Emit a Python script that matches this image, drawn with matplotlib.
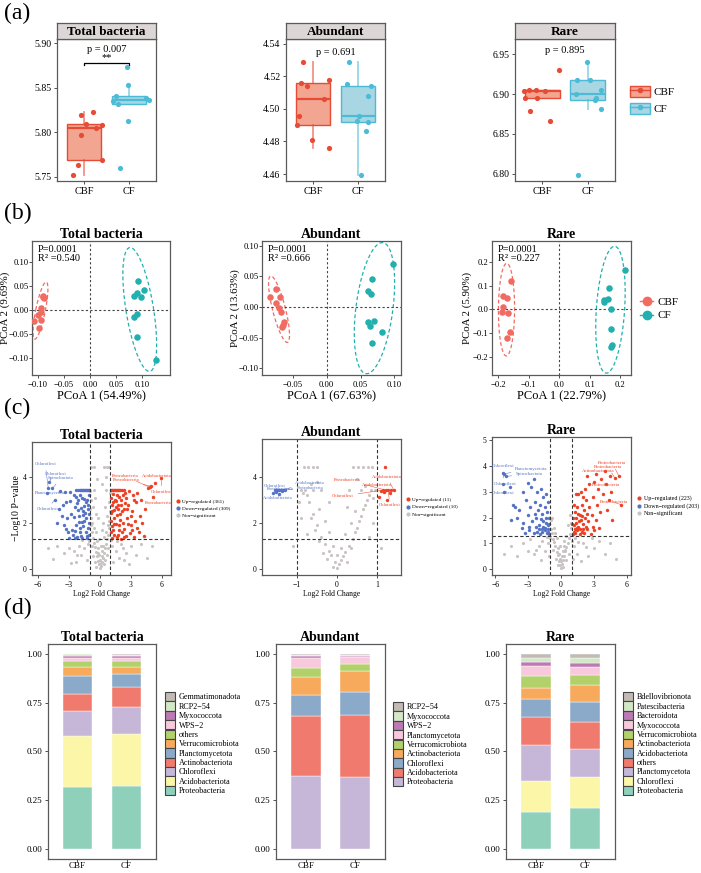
import numpy as np
import matplotlib
matplotlib.use("Agg")
import matplotlib.pyplot as plt
from matplotlib.patches import Patch
from matplotlib.lines import Line2D

plt.rcParams['font.family'] = ['Liberation Serif', 'DejaVu Serif']

W, H = 701, 873

# ---------------- (a) alpha diversity ----------------
groups = ["CBF", "CF"]
tot_cbf_dx = [-0.237, -0.141, -0.074, -0.059, 0.037, 0.193, 0.267, 0.393, 0.393]
tot_cbf_y = [5.752, 5.7635, 5.819, 5.7965, 5.8096, 5.8228, 5.8044, 5.8085, 5.7688]
tot_cf_dx = [-0.037, -0.015, -0.289, -0.348, -0.244, 0.37, 0.437, -0.015, -0.193]
tot_cf_y = [5.8726, 5.8535, 5.8404, 5.8351, 5.8314, 5.8389, 5.8366, 5.813, 5.7601]
abu_cbf_dx = [-0.215, -0.259, -0.141, 0.348, 0.244, -0.319, -0.356, -0.015, 0.348]
abu_cbf_y = [4.5289, 4.5157, 4.5143, 4.518, 4.5063, 4.4954, 4.4904, 4.4808, 4.4762]
abu_cf_dx = [-0.207, -0.244, 0.281, 0.215, 0.015, -0.03, 0.222, 0.185, 0.059]
abu_cf_y = [4.5291, 4.5151, 4.5139, 4.5077, 4.4956, 4.4923, 4.4921, 4.4865, 4.4596]
rar_cbf_dx = [-0.393, -0.296, -0.148, 0.059, 0.363, -0.378, -0.119, -0.267, 0.17]
rar_cbf_y = [6.9042, 6.905, 6.9054, 6.9042, 6.9304, 6.8946, 6.895, 6.8783, 6.8658]
rar_cf_dx = [-0.015, -0.23, 0.052, -0.252, 0.296, 0.185, 0.156, 0.281, -0.207]
rar_cf_y = [6.94, 6.9175, 6.9179, 6.9004, 6.9046, 6.8946, 6.8929, 6.8808, 6.7983]
p_values = ["p = 0.007", "p = 0.691", "p = 0.895"]

# ---------------- (b) PCoA ----------------
pc_tot_cbf = [(-0.0897, 0.0299), (-0.0885, 0.025), (-0.0942, 0.0042), (-0.0949, -0.0028),
              (-0.1006, -0.0104), (-0.0942, -0.0201), (-0.1071, -0.0236), (-0.0974, -0.0375),
              (-0.0905, 0.027)]
pc_tot_cf = [(0.093, 0.0611), (0.1032, 0.0417), (0.0897, 0.0347), (0.0846, 0.0292),
             (0.0981, 0.0264), (0.0897, -0.0083), (0.0853, -0.0139), (0.091, -0.0549),
             (0.1276, -0.1035)]
pc_abu_cbf = [(-0.0753, 0.0288), (-0.0831, 0.0157), (-0.0684, 0.0157), (-0.0743, 0.0059),
              (-0.0703, -0.0023), (-0.0679, -0.0088), (-0.0635, -0.0252), (-0.0644, -0.0295),
              (-0.0654, -0.0333)]
pc_abu_cf = [(0.0984, 0.0696), (0.0669, 0.0456), (0.0605, 0.0254), (0.0654, 0.0211),
             (0.0698, -0.0225), (0.0605, -0.0246), (0.0644, -0.0312), (0.0812, -0.041),
             (0.0669, -0.0595)]
pc_rar_cbf = [(-0.1563, 0.1189), (-0.1825, 0.0559), (-0.1716, 0.049), (-0.1825, 0.0084),
              (-0.1858, -0.0126), (-0.1661, -0.014), (-0.1607, -0.0965), (-0.1716, -0.1217)]
pc_rar_cf = [(0.2153, 0.1664), (0.1639, 0.0909), (0.1617, 0.0448), (0.1475, 0.0406),
             (0.1486, 0.0322), (0.1694, 0.0), (0.1694, -0.0825), (0.1727, -0.1497),
             (0.1694, -0.158)]
pc_stats = [("P=0.0001", "R² =0.540"), ("P=0.0001", "R² =0.666"), ("P=0.0001", "R² =0.227")]
pc_axis1 = ["PCoA 1 (54.49%)", "PCoA 1 (67.63%)", "PCoA 1 (22.79%)"]
pc_axis2 = ["PCoA 2 (9.69%)", "PCoA 2 (13.63%)", "PCoA 2 (5.90%)"]

# ---------------- (c) volcano ----------------
vt_up = [(1.05, 3.43), (1.15, 3.43), (1.25, 3.43), (1.35, 3.43), (1.45, 3.43), (1.55, 3.43),
         (1.65, 3.43), (1.75, 3.43), (1.85, 3.43), (1.95, 3.43), (2.1, 3.43), (2.3, 3.43),
         (1.1, 3.1), (1.3, 2.9), (1.6, 3.2), (2.0, 3.0), (2.4, 3.3), (2.8, 3.4), (3.2, 3.2),
         (3.6, 3.3), (1.2, 2.5), (1.5, 2.7), (1.9, 2.4), (2.3, 2.6), (2.7, 2.8), (3.1, 2.5),
         (3.5, 2.9), (4.0, 3.0), (4.4, 2.6), (1.1, 2.1), (1.4, 2.2), (1.8, 1.9), (2.2, 2.0),
         (2.6, 2.2), (3.0, 1.9), (3.4, 2.1), (3.9, 2.3), (1.05, 1.6), (1.3, 1.7), (1.7, 1.5),
         (2.1, 1.6), (2.5, 1.45), (2.9, 1.55), (3.3, 1.4), (3.8, 1.6), (4.3, 1.45), (1.2, 1.35),
         (1.6, 1.38), (2.0, 1.32), (1.15, 2.8), (1.45, 3.0), (1.75, 2.6), (2.05, 2.8),
         (1.35, 1.95), (1.65, 2.35), (4.6, 3.5), (4.9, 3.6), (5.3, 3.75), (5.9, 3.95),
         (5.1, 3.15), (4.8, 3.55), (3.3, 3.0), (2.5, 3.1), (4.1, 2.0), (3.6, 1.8),
         (1.25, 3.25), (1.55, 2.95), (1.85, 3.15), (2.25, 3.2), (1.1, 2.45), (1.4, 2.55),
         (1.7, 2.8), (2.1, 2.5), (2.45, 2.85), (1.2, 1.85), (1.5, 1.95), (1.9, 2.15),
         (2.35, 1.75), (2.75, 1.95), (1.35, 1.5), (1.8, 1.7), (2.3, 1.38), (3.1, 1.7),
         (2.6, 2.6), (3.0, 2.3)]
vt_down = [(-1.05, 3.43), (-1.15, 3.43), (-1.25, 3.43), (-1.35, 3.43), (-1.45, 3.43),
           (-1.55, 3.43), (-1.65, 3.43), (-1.75, 3.43), (-1.85, 3.43), (-1.95, 3.43),
           (-2.1, 3.43), (-2.3, 3.43), (-1.1, 3.2), (-1.4, 2.9), (-1.7, 3.1), (-2.1, 3.0),
           (-2.5, 3.2), (-2.9, 3.35), (-3.3, 2.9), (-1.2, 2.6), (-1.6, 2.5), (-2.0, 2.3),
           (-2.4, 2.7), (-2.8, 2.4), (-3.2, 2.2), (-3.6, 2.8), (-4.0, 2.6), (-1.1, 2.0),
           (-1.5, 2.1), (-1.9, 1.8), (-2.3, 1.9), (-2.7, 1.7), (-3.1, 1.6), (-3.5, 1.9),
           (-1.05, 1.5), (-1.4, 1.6), (-1.8, 1.45), (-2.2, 1.4), (-2.6, 1.5), (-3.0, 1.35),
           (-1.3, 1.33), (-1.7, 1.36), (-1.15, 2.8), (-1.5, 3.05), (-1.85, 2.65), (-2.2, 2.85),
           (-1.35, 2.2), (-1.65, 2.35), (-4.6, 3.5), (-5.0, 3.5), (-4.9, 3.8), (-5.1, 3.3),
           (-4.4, 3.0), (-3.9, 3.4), (-3.7, 2.3), (-4.2, 2.0), (-2.9, 2.95), (-3.4, 3.35),
           (-1.25, 3.0), (-1.55, 2.75), (-1.9, 3.2), (-2.3, 3.15), (-1.1, 2.4), (-1.45, 2.45),
           (-1.75, 2.05), (-2.1, 2.55), (-2.5, 2.25), (-1.2, 1.8), (-1.6, 1.85), (-2.0, 2.05),
           (-2.45, 1.65), (-1.3, 1.45), (-1.9, 1.6), (-2.4, 1.35), (-3.3, 1.75)]
vt_ns = [(0, 0.05), (0.1, 0.15), (-0.1, 0.2), (0.2, 0.3), (-0.2, 0.35), (0.3, 0.5), (-0.3, 0.55),
         (0.4, 0.7), (-0.4, 0.75), (0.5, 0.9), (-0.5, 0.95), (0.6, 1.1), (-0.6, 1.15), (0.0, 0.4),
         (0.05, 0.25), (-0.05, 0.6), (0.15, 0.8), (-0.15, 0.9), (0.25, 1.0), (-0.25, 1.2),
         (0.7, 1.3), (-0.7, 1.35), (0.8, 1.5), (-0.8, 1.6), (0.9, 1.8), (-0.9, 1.9), (0.85, 2.1),
         (-0.85, 2.2), (0.95, 2.5), (-0.95, 2.6), (0.9, 2.9), (-0.9, 3.0), (0.95, 3.3),
         (-0.95, 3.4), (0.6, 3.43), (-0.6, 3.43), (0.3, 2.0), (-0.4, 2.4), (0.5, 2.7),
         (-0.5, 3.1), (0.7, 2.3), (-0.7, 2.7), (1.2, 1.0), (-1.2, 1.1), (1.5, 0.8), (-1.5, 0.9),
         (2.0, 1.1), (-2.0, 1.0), (2.5, 0.7), (-2.5, 0.8), (3.0, 1.0), (-3.0, 0.9), (1.8, 0.5),
         (-1.8, 0.6), (3.5, 0.6), (-3.5, 0.7), (4.0, 1.1), (-4.2, 1.0), (1.3, 0.3), (-1.3, 0.4),
         (2.3, 0.4), (-2.3, 0.3), (-0.6, 4.43), (0.4, 4.43), (0.7, 4.43), (-0.9, 4.43),
         (0.9, 4.43), (0.2, 3.7), (-0.3, 3.9), (0.55, 4.0), (1.1, 1.25), (-1.1, 1.2), (0.35, 1.4),
         (-0.35, 1.6), (0.75, 1.9), (-0.75, 2.0), (5.0, 1.0), (-5.0, 0.9), (2.8, 0.2),
         (-2.8, 0.25), (4.5, 0.5), (-4.5, 0.45), (0.1, 1.0), (-0.1, 1.3), (0.2, 0.55),
         (-0.2, 0.7), (0.45, 0.4), (-0.45, 0.3), (0.65, 0.6), (-0.65, 0.55), (0.35, 0.2),
         (-0.35, 0.1), (0.8, 0.9), (-0.8, 1.0), (1.6, 1.2), (-1.7, 1.25), (2.2, 0.9),
         (-2.2, 0.6), (0.55, 1.6), (-0.55, 1.8), (0.15, 1.7), (-0.2, 2.2)]
va_up = [(1.2, 4.43), (1.15, 3.43), (1.22, 3.43), (1.28, 3.43), (1.35, 3.43), (1.42, 3.43),
         (1.1, 3.4), (1.32, 3.3), (1.05, 3.15), (1.25, 3.0), (1.18, 3.36)]
va_down = [(-1.55, 3.43), (-1.5, 3.43), (-1.45, 3.43), (-1.4, 3.43), (-1.35, 3.43), (-1.3, 3.43),
           (-1.6, 3.3), (-1.45, 3.25), (-1.38, 3.38), (-1.52, 3.35)]
va_ns = [(0, 0.05), (0.05, 0.2), (-0.05, 0.3), (0.1, 0.4), (-0.1, 0.1), (0.15, 0.55),
         (-0.15, 0.6), (0.2, 0.75), (-0.2, 0.8), (0.25, 0.3), (-0.25, 0.45), (0.3, 1.0),
         (-0.3, 1.1), (0.35, 0.9), (-0.35, 0.7), (0.4, 1.3), (-0.4, 1.4), (0.45, 1.6),
         (-0.45, 1.2), (0.5, 1.8), (-0.5, 1.9), (0.55, 2.1), (-0.55, 1.7), (0.6, 2.3),
         (-0.6, 2.4), (0.65, 2.6), (-0.65, 2.2), (0.7, 2.8), (-0.7, 2.9), (0.75, 3.0),
         (-0.75, 3.2), (0.8, 3.2), (-0.8, 3.43), (0.85, 3.43), (-0.85, 3.3), (0.9, 3.1),
         (-0.9, 3.43), (0.95, 3.43), (-0.95, 2.9), (0.6, 3.43), (-0.6, 3.43), (0.3, 3.43),
         (-0.4, 3.43), (0.7, 3.6), (-0.65, 3.7), (0.0, 0.6), (0.1, 0.9), (-0.1, 1.0),
         (0.2, 1.5), (-0.2, 1.6), (0.35, 2.0), (-0.3, 2.1), (0.45, 2.5), (-0.45, 2.6),
         (-0.2, 2.9), (0.25, 2.7), (-0.83, 4.43), (-0.73, 4.43), (-0.6, 4.43), (-0.5, 4.43),
         (0.4, 4.43), (0.53, 4.43), (0.65, 4.43), (0.78, 4.43), (0.88, 4.43), (0.5, 3.9),
         (-0.5, 3.8), (0.9, 2.0), (-0.9, 2.2), (0.8, 1.4), (-0.75, 1.5), (-1.1, 1.0), (1.1, 0.9)]
vr_up = [(1.1, 1.35), (1.3, 1.4), (1.5, 1.5), (1.7, 1.38), (1.9, 1.45), (2.1, 1.4), (2.4, 1.55),
         (2.7, 1.38), (3.0, 1.5), (1.2, 1.7), (1.4, 1.8), (1.6, 1.65), (1.8, 1.9), (2.0, 1.75),
         (2.2, 2.0), (2.5, 1.85), (2.8, 2.1), (3.2, 1.9), (1.1, 2.0), (1.3, 2.2), (1.5, 2.4),
         (1.7, 2.1), (1.9, 2.5), (2.1, 2.3), (2.3, 2.7), (2.6, 2.4), (2.9, 2.8), (3.3, 2.5),
         (3.6, 2.2), (1.4, 2.9), (1.8, 3.0), (2.2, 3.1), (2.6, 3.3), (3.0, 3.4), (3.4, 3.1),
         (3.8, 2.9), (4.1, 3.3), (4.4, 2.7), (4.0, 3.8), (4.5, 3.6), (4.9, 3.55), (5.3, 3.6),
         (5.5, 2.5), (4.6, 3.0), (3.7, 3.5), (3.2, 3.7), (2.4, 3.6), (4.2, 2.3), (1.25, 1.55),
         (2.05, 1.55), (1.6, 2.9), (2.9, 1.65), (3.5, 1.6), (4.7, 1.9), (2.0, 2.8), (1.15, 2.5),
         (1.2, 1.45), (1.45, 1.6), (1.75, 1.55), (2.25, 1.65), (1.35, 2.0), (1.65, 1.85),
         (2.4, 2.15), (1.05, 1.75), (1.55, 2.15), (1.95, 2.05)]
vr_down = [(-1.1, 1.35), (-1.3, 1.4), (-1.5, 1.5), (-1.7, 1.45), (-1.9, 1.38), (-2.2, 1.45),
           (-2.5, 1.4), (-2.9, 1.5), (-3.3, 1.4), (-1.2, 1.7), (-1.4, 1.8), (-1.6, 1.65),
           (-1.8, 1.95), (-2.0, 1.7), (-2.3, 2.0), (-2.6, 1.85), (-3.0, 2.1), (-3.5, 1.8),
           (-1.1, 2.0), (-1.3, 2.2), (-1.5, 2.4), (-1.7, 2.15), (-1.9, 2.5), (-2.1, 2.3),
           (-2.4, 2.6), (-2.8, 2.4), (-3.2, 2.7), (-3.8, 2.3), (-4.2, 2.4), (-1.4, 2.9),
           (-1.8, 3.1), (-2.2, 3.0), (-2.7, 3.2), (-3.0, 3.35), (-3.5, 3.0), (-4.4, 2.5),
           (-5.2, 3.0), (-5.3, 3.3), (-5.0, 3.6), (-5.2, 3.7), (-5.3, 3.75), (-4.7, 3.2),
           (-2.5, 3.5), (-1.2, 1.55), (-2.05, 1.55), (-1.6, 2.8), (-2.9, 1.65), (-3.6, 1.6),
           (-4.6, 1.9), (-4.0, 2.0), (-1.15, 2.6), (-1.2, 1.45), (-1.45, 1.6), (-1.75, 1.55),
           (-2.25, 1.65), (-1.35, 2.0), (-1.65, 1.85), (-2.4, 2.15), (-1.05, 1.75)]
vr_ns = [(0, 0.05), (0.1, 0.2), (-0.1, 0.15), (0.2, 0.35), (-0.2, 0.3), (0.3, 0.5), (-0.3, 0.55),
         (0.4, 0.7), (-0.4, 0.65), (0.5, 0.85), (-0.5, 0.9), (0.6, 1.0), (-0.6, 1.05), (0.7, 1.2),
         (-0.7, 1.15), (0.8, 1.35), (-0.8, 1.4), (0.9, 1.6), (-0.9, 1.55), (0.95, 1.8),
         (-0.95, 1.9), (0.85, 2.1), (-0.85, 2.0), (0.0, 0.3), (0.05, 0.5), (-0.05, 0.4),
         (0.15, 0.7), (-0.15, 0.6), (0.25, 0.9), (-0.25, 0.8), (1.2, 0.9), (-1.2, 1.0),
         (1.5, 0.6), (-1.5, 0.7), (2.0, 1.0), (-2.0, 0.9), (2.5, 0.5), (-2.5, 0.6), (3.0, 0.8),
         (-3.0, 0.7), (3.5, 1.1), (-3.5, 1.0), (4.0, 0.6), (-4.0, 0.5), (1.3, 1.2), (-1.3, 1.25),
         (1.8, 0.3), (-1.8, 0.35), (2.8, 1.2), (-2.8, 1.15), (4.5, 1.0), (-4.6, 0.9), (0.5, 1.3),
         (-0.5, 1.4), (0.3, 1.1), (-0.35, 1.2), (0.65, 1.7), (-0.65, 1.6), (1.1, 0.4),
         (-1.1, 0.5), (5.0, 0.4), (-5.2, 0.6), (0.2, 0.1), (-0.25, 0.15), (0.45, 0.35),
         (-0.45, 0.4), (0.7, 0.6), (-0.7, 0.75), (1.0, 1.1), (-1.0, 1.2), (1.6, 1.05),
         (-1.7, 1.1), (2.3, 0.85), (-2.3, 0.75), (0.35, 0.75), (-0.1, 0.9)]
volc_counts = [(361, 309), (11, 10), (223, 203)]

# labels: text, text x, text y, point x, point y, side
vt_labels = [("Chloroflexi", -5.3, 4.55, -5.0, 3.5, 0), ("Chloroflexi", -4.3, 4.15, -4.9, 3.8, 0),
             ("Spirochaetota", -3.8, 3.95, -4.6, 3.5, 0), ("Planctomycetota", -4.8, 3.3, -5.1, 3.3, 0),
             ("Chloroflexi", -5.1, 2.6, -4.4, 3.0, 0), ("Proteobacteria", 2.4, 4.05, 4.8, 3.55, 1),
             ("Acidobacteriota", 5.5, 4.05, 5.3, 3.75, 1), ("Proteobacteria", 2.5, 3.85, 4.9, 3.6, 1),
             ("Chloroflexi", 6.0, 3.35, 5.9, 3.95, 1), ("Proteobacteria", 5.6, 2.85, 5.1, 3.15, 1)]
va_labels = [("Chloroflexi", -1.55, 3.6, -1.5, 3.43, 0), ("Proteobacteria", -1.42, 3.48, -1.45, 3.43, 0),
             ("Acidobacteriota", -0.67, 3.74, -1.4, 3.43, 0), ("Proteobacteria", -0.67, 3.52, -1.35, 3.43, 0),
             ("Acidobacteriota", -1.47, 3.09, -1.45, 3.25, 0), ("Acidobacteriota", 1.25, 4.0, 1.42, 3.43, 1),
             ("Proteobacteria", 0.25, 3.87, 1.22, 3.43, 1), ("Acidobacteriota", 1.0, 3.65, 1.35, 3.43, 1),
             ("Chloroflexi", 0.15, 3.17, 1.15, 3.43, 1), ("Chloroflexi", 1.32, 2.78, 1.28, 3.43, 1)]
vr_labels = [("Chloroflexi", -5.26, 4.0, -5.3, 3.75, 0), ("Planctomycetota", -2.7, 3.9, -5.2, 3.7, 0),
             ("Spirochaetota", -2.9, 3.7, -5.0, 3.6, 0), ("Chloroflexi", -5.1, 3.3, -5.3, 3.7, 0),
             ("Chloroflexi", -5.26, 2.95, -5.2, 3.0, 0), ("Proteobacteria", 4.7, 4.12, 5.3, 3.6, 1),
             ("Proteobacteria", 4.3, 3.97, 4.9, 3.55, 1), ("Actinobacteriota", 3.4, 3.8, 4.5, 3.6, 1),
             ("Proteobacteria", 4.1, 3.27, 4.6, 3.0, 1), ("Proteobacteria", 4.8, 2.6, 5.5, 2.5, 1)]

# ---------------- (d) composition (bottom -> top) ----------------
tot_taxa = ["Proteobacteria", "Acidobacteriota", "Chloroflexi", "Actinobacteriota", "Planctomycetota",
            "Verrucomicrobiota", "others", "WPS−2", "Myxococcota", "RCP2−54", "Gemmatimonadota"]
tot_cbf = [0.320, 0.261, 0.124, 0.089, 0.092, 0.047, 0.028, 0.016, 0.013, 0.007, 0.003]
tot_cf = [0.326, 0.266, 0.135, 0.105, 0.067, 0.034, 0.028, 0.016, 0.011, 0.007, 0.005]
abu_taxa = ["Proteobacteria", "Acidobacteriota", "Chloroflexi", "Actinobacteriota", "Verrucomicrobiota",
            "Planctomycetota", "WPS−2", "Myxococcota", "RCP2−54"]
abu_cbf = [0.374, 0.306, 0.109, 0.093, 0.047, 0.049, 0.010, 0.007, 0.005]
abu_cf = [0.371, 0.314, 0.121, 0.106, 0.036, 0.035, 0.007, 0.005, 0.005]
rar_taxa = ["Proteobacteria", "Chloroflexi", "Planctomycetota", "others", "Acidobacteriota",
            "Actinobacteriota", "Verrucomicrobiota", "Myxococcota", "Bacteroidota", "Patescibacteria",
            "Bdellovibrionota"]
rar_cbf = [0.190, 0.159, 0.185, 0.140, 0.093, 0.060, 0.061, 0.047, 0.023, 0.020, 0.022]
rar_cf = [0.210, 0.161, 0.142, 0.138, 0.102, 0.089, 0.049, 0.040, 0.024, 0.025, 0.020]
palette = ["#8FD0BB", "#FBF6A8", "#C6B7D8", "#EF7A6D", "#8BA9C9", "#F7AA5C", "#B2D16A",
           "#F8C8DD", "#BB7AB4", "#D2E8C6", "#C2BAB5"]

RED, BLUE = "#E64B35", "#4DBBD5"
RED_FILL, BLUE_FILL = "#F2A590", "#A9D6E3"
P_RED, P_TEAL = "#F26B63", "#22B0AE"
V_UP, V_DOWN, V_NS = "#EE4025", "#5573C6", "#C9C3C3"
SPINE = "#5A5A5A"

fig = plt.figure(figsize=(W / 100, H / 100), dpi=100)


def px_axes(l, t, r, b):
    return fig.add_axes([l / W, 1 - b / H, (r - l) / W, (b - t) / H])


def style(ax, size):
    for s in ax.spines.values():
        s.set_color(SPINE)
        s.set_linewidth(0.9)
    ax.tick_params(length=2.5, width=0.6, color="#333333", labelsize=size, pad=1.5)


#####  (a) boxplots
def box_panel(l, r, title, cbf_dx, cbf_y, cf_dx, cf_y, ylim, yticks, ptxt, py):
    ax = px_axes(l, 39, r, 181)
    bp = ax.boxplot([cbf_y, cf_y], positions=[1, 2], widths=0.77, patch_artist=True,
                    showfliers=False, showcaps=False)
    for i, (c, fc) in enumerate([(RED, RED_FILL), (BLUE, BLUE_FILL)]):
        bp["boxes"][i].set(facecolor=fc, edgecolor=c, linewidth=1.0)
        bp["medians"][i].set(color=c, linewidth=1.6)
        for w in bp["whiskers"][2 * i:2 * i + 2]:
            w.set(color=c, alpha=0.6, linewidth=1.3)
    ax.scatter(1 + np.array(cbf_dx), cbf_y, s=14, color=RED, zorder=3, linewidths=0)
    ax.scatter(2 + np.array(cf_dx), cf_y, s=14, color=BLUE, zorder=3, linewidths=0)
    ax.set_xlim(0.4, 2.6)
    ax.set_ylim(*ylim)
    ax.set_yticks(yticks)
    ax.set_yticklabels([f"{v:.2f}" for v in yticks])
    ax.set_xticks([1, 2])
    ax.set_xticklabels(groups)
    style(ax, 7)
    ax.tick_params(axis="x", labelsize=7.5)
    ax.text(1.5, py, ptxt, ha="center", va="bottom", fontsize=7.5)
    sax = px_axes(l, 23, r, 39)
    sax.set_facecolor("#DCD6D6")
    sax.set_xticks([])
    sax.set_yticks([])
    for s in sax.spines.values():
        s.set_color(SPINE)
        s.set_linewidth(0.9)
    sax.text(0.5, 0.45, title, ha="center", va="center", fontsize=9.5, fontweight="bold")
    return ax


ax = box_panel(57, 156, "Total bacteria", tot_cbf_dx, tot_cbf_y, tot_cf_dx, tot_cf_y,
               (5.7455, 5.9045), [5.75, 5.80, 5.85, 5.90], p_values[0], 5.8875)
ax.plot([1, 1, 2, 2], [5.8755, 5.878, 5.878, 5.8755], color="black", lw=0.9)
ax.text(1.5, 5.8785, "**", ha="center", va="bottom", fontsize=7.5)
box_panel(286, 385, "Abundant", abu_cbf_dx, abu_cbf_y, abu_cf_dx, abu_cf_y,
          (4.4557, 4.543), [4.46, 4.48, 4.50, 4.52, 4.54], p_values[1], 4.532)
box_panel(515, 615, "Rare", rar_cbf_dx, rar_cbf_y, rar_cf_dx, rar_cf_y,
          (6.791, 6.969), [6.80, 6.85, 6.90, 6.95], p_values[2], 6.949)

hand_a = [(Patch(facecolor=RED_FILL, edgecolor=RED), Line2D([], [], color=RED, marker="o", ms=3, lw=1)),
          (Patch(facecolor=BLUE_FILL, edgecolor=BLUE), Line2D([], [], color=BLUE, marker="o", ms=3, lw=1))]
fig.legend(hand_a, groups, loc="center left", bbox_to_anchor=(620 / W, 1 - 100 / H), frameon=False,
           fontsize=8, handlelength=1.8, handleheight=1.2, labelspacing=0.5, handletextpad=0.3)


#####  (b) PCoA
def ellipse(pts):
    pts = np.array(pts)
    cov = np.cov(pts[:, 0], pts[:, 1])
    vals, vecs = np.linalg.eigh(cov)
    t = np.linspace(0, 2 * np.pi, 200)
    circ = np.stack([np.cos(t), np.sin(t)]) * np.sqrt(vals)[:, None] * np.sqrt(5.991)
    e = vecs @ circ
    return pts[:, 0].mean() + e[0], pts[:, 1].mean() + e[1]


def pcoa_panel(l, r, title, cbf, cf, xlim, ylim, xticks, yticks, fmt, stats, xl, yl, ylab_x):
    ax = px_axes(l, 241, r, 375)
    for pts, c in [(cbf, P_RED), (cf, P_TEAL)]:
        a = np.array(pts)
        ax.scatter(a[:, 0], a[:, 1], s=22, color=c, linewidths=0, zorder=3)
        ex, ey = ellipse(pts)
        ax.plot(ex, ey, color=c, lw=0.9, ls=(0, (3, 2)))
    ax.axhline(0, color="#444444", lw=0.8, ls=(0, (2, 2)))
    ax.axvline(0, color="#444444", lw=0.8, ls=(0, (2, 2)))
    ax.set_xlim(*xlim)
    ax.set_ylim(*ylim)
    ax.set_xticks(xticks)
    ax.set_xticklabels([fmt.format(v).replace("-", "−") for v in xticks])
    ax.set_yticks(yticks)
    ax.set_yticklabels([fmt.format(v).replace("-", "−") for v in yticks])
    style(ax, 6.2)
    ax.tick_params(axis="y", pad=0.6, length=2)
    ax.set_title(title, fontsize=10, fontweight="bold", pad=2)
    ax.text(0.04, 0.97, stats[0] + "\n" + stats[1], transform=ax.transAxes, ha="left", va="top",
            fontsize=7.5, linespacing=1.05)
    ax.set_xlabel(xl, fontsize=9, labelpad=1)
    ax.set_ylabel(yl, fontsize=7.8)
    ax.yaxis.set_label_coords((ylab_x - l) / (r - l), 0.5)
    return ax


pcoa_panel(32, 170, "Total bacteria", pc_tot_cbf, pc_tot_cf, (-0.1115, 0.154), (-0.135, 0.144),
           [-0.10, -0.05, 0, 0.05, 0.10], [-0.10, -0.05, 0, 0.05, 0.10], "{:.2f}",
           pc_stats[0], pc_axis1[0], pc_axis2[0], 10.5)
pcoa_panel(262, 401, "Abundant", pc_abu_cbf, pc_abu_cf, (-0.0954, 0.1096), (-0.111, 0.1077),
           [-0.05, 0, 0.05, 0.10], [-0.10, -0.05, 0, 0.05, 0.10], "{:.2f}",
           pc_stats[1], pc_axis1[1], pc_axis2[1], 240)
pcoa_panel(492, 631, "Rare", pc_rar_cbf, pc_rar_cf, (-0.2197, 0.236), (-0.276, 0.287),
           [-0.2, -0.1, 0, 0.1, 0.2], [-0.2, -0.1, 0, 0.1, 0.2], "{:.1f}",
           pc_stats[2], pc_axis1[2], pc_axis2[2], 472)
hand_b = [Line2D([], [], color=P_RED, marker="o", ms=6, lw=1),
          Line2D([], [], color=P_TEAL, marker="o", ms=6, lw=1)]
fig.legend(hand_b, groups, loc="center left", bbox_to_anchor=(630 / W, 1 - 309 / H), frameon=False,
           fontsize=8, handlelength=1.2, labelspacing=0.3, handletextpad=0.4)


#####  (c) volcano
def volcano(l, t, r, title, up, down, ns, labels, xlim, ylim, xticks, yticks, counts, lsize, lspace, asize):
    ax = px_axes(l, t, r, 575)
    for pts, c, s in [(ns, V_NS, 5), (down, V_DOWN, 6), (up, V_UP, 6)]:
        a = np.array(pts)
        ax.scatter(a[:, 0], a[:, 1], s=s, color=c, linewidths=0, zorder=2)
    for txt, tx, ty, px, py, side in labels:
        c = V_UP if side else V_DOWN
        ax.annotate(txt, xy=(px, py), xytext=(tx, ty), fontsize=asize, color=c, ha="center",
                    va="center", arrowprops=dict(arrowstyle="-", color=c, lw=0.35, shrinkA=1, shrinkB=0))
    for xv in (-1, 1):
        ax.axvline(xv, color="#333333", lw=0.8, ls=(0, (3, 2)))
    ax.axhline(1.3, color="#333333", lw=0.8, ls=(0, (3, 2)))
    ax.set_xlim(*xlim)
    ax.set_ylim(*ylim)
    ax.set_xticks(xticks)
    ax.set_xticklabels([str(v).replace("-", "−") for v in xticks])
    ax.set_yticks(yticks)
    style(ax, 5.5)
    ax.set_title(title, fontsize=10, fontweight="bold", pad=2)
    ax.set_xlabel("Log2 Fold Change", fontsize=5.5, labelpad=1)
    hands = [Line2D([], [], color=V_UP, marker="o", ms=2, lw=0),
             Line2D([], [], color=V_DOWN, marker="o", ms=2, lw=0),
             Line2D([], [], color=V_NS, marker="o", ms=2, lw=0)]
    names = [f"Up−regulated ({counts[0]})", f"Down−regulated ({counts[1]})", "Non−significant"]
    ax.legend(hands, names, loc="center left", bbox_to_anchor=(1.0, 0.5), frameon=False, fontsize=lsize,
              handlelength=1.0, handletextpad=0.3, labelspacing=lspace, borderaxespad=0.4)
    return ax


ax = volcano(32, 442, 171, "Total bacteria", vt_up, vt_down, vt_ns, vt_labels, (-6.58, 6.87),
             (-0.26, 5.52), [-6, -3, 0, 3, 6], [0, 2, 4], volc_counts[0], 3.8, 0.5, 3.3)
ax.set_ylabel("−Log10 P−value", fontsize=7, labelpad=1)
volcano(262, 439, 401, "Abundant", va_up, va_down, va_ns, va_labels, (-1.875, 1.6),
        (-0.26, 5.65), [-1, 0, 1], [0, 2, 4], volc_counts[1], 3.8, 0.5, 3.3)
volcano(492, 437, 631, "Rare", vr_up, vr_down, vr_ns, vr_labels, (-6.3, 6.4),
        (-0.23, 5.13), [-6, -3, 0, 3, 6], [0, 1, 2, 3, 4, 5], volc_counts[2], 4.3, 0.3, 3.5)


#####  (d) stacked bars
def bar_panel(l, r, title, taxa, cbf, cf, leg_x, leg_y):
    ax = px_axes(l, 644, r, 859)
    cols = palette[-len(taxa):]
    bottom = np.zeros(2)
    for i, name in enumerate(taxa):
        vals = np.array([cbf[i], cf[i]])
        ax.bar([1, 2], vals, width=0.6, bottom=bottom, color=cols[i], edgecolor="white", linewidth=0.3)
        bottom += vals
    ax.set_xlim(0.4, 2.6)
    ax.set_ylim(-0.05, 1.05)
    ax.set_yticks([0, 0.25, 0.5, 0.75, 1.0])
    ax.set_yticklabels(["0.00", "0.25", "0.50", "0.75", "1.00"])
    ax.set_xticks([1, 2])
    ax.set_xticklabels(groups)
    style(ax, 6.5)
    ax.tick_params(axis="x", length=2, pad=0.5)
    ax.set_title(title, fontsize=10, fontweight="bold", pad=2)
    hands = [Patch(facecolor=cols[i], edgecolor="#444444", linewidth=0.8) for i in range(len(taxa))][::-1]
    fig.legend(hands, taxa[::-1], loc="upper left", bbox_to_anchor=(leg_x / W, 1 - leg_y / H),
               frameon=False, fontsize=5.9, handlelength=1.2, handleheight=1.37, labelspacing=0.0,
               handletextpad=0.5, borderpad=0, borderaxespad=0)


bar_panel(48, 156, "Total bacteria", tot_taxa, tot_cbf, tot_cf, 165, 692)
bar_panel(276, 385, "Abundant", abu_taxa, abu_cbf, abu_cf, 393, 702)
bar_panel(506, 615, "Rare", rar_taxa, rar_cbf, rar_cf, 623, 692)

for lab, y in [("(a)", 3), ("(b)", 203), ("(c)", 398), ("(d)", 598)]:
    fig.text(4 / W, 1 - y / H, lab, fontsize=17, ha="left", va="top")

fig.savefig("out.png", dpi=100)
